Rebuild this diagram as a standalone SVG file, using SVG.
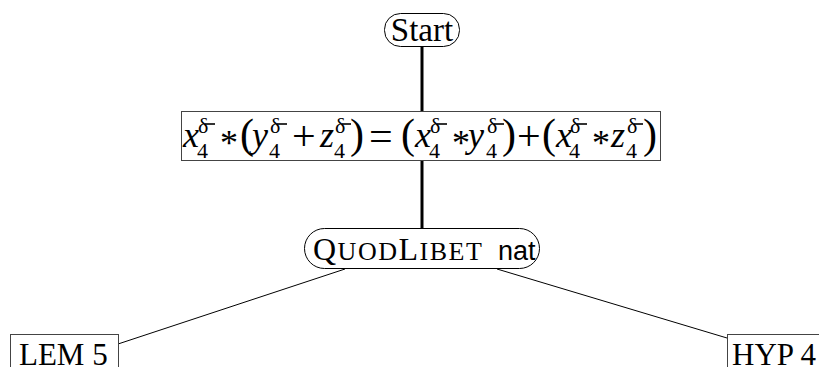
<svg xmlns="http://www.w3.org/2000/svg" width="819" height="367" viewBox="0 0 819 367">
<style>
.serif{font-family:"Liberation Serif","Times New Roman",serif;fill:#000}
.sans{font-family:"Liberation Sans",Arial,sans-serif;fill:#000}
.it{font-style:italic;font-size:36px}
.par{font-size:42px}
.op{font-size:42px}
.ast{font-size:36px}
.sup{font-size:22px}
.oval{fill:#fff;stroke:#000;stroke-width:1}
.box{fill:#fff;stroke:#444;stroke-width:1}
.thick{stroke:#000;stroke-width:3;fill:none}
.thin{stroke:#000;stroke-width:1;fill:none}
.bar{stroke:#000;stroke-width:1.6}
</style>
<rect width="819" height="367" fill="#fff"/>
<g id="connectors">
<line class="thick" x1="422" y1="46" x2="422" y2="112"/>
<line class="thick" x1="422" y1="161" x2="422" y2="228"/>
<line class="thin" x1="345" y1="269" x2="118" y2="344"/>
<line class="thin" x1="497" y1="269" x2="727" y2="338"/>
</g>
<g id="start">
<rect class="oval" x="384.5" y="13.5" width="75" height="33" rx="16"/>
<text class="serif" x="422" y="41" font-size="33" text-anchor="middle">Start</text>
</g>
<g id="equation">
<rect class="box" x="181.5" y="111.5" width="479" height="49"/>
<g class="serif">
<text class="it" x="183" y="147">x</text>
<text class="ast" x="220" y="155">*</text>
<text class="par" x="240" y="148">(</text>
<text class="it" x="252" y="147">y</text>
<text class="op" x="292" y="150">+</text>
<text class="it" x="320" y="147">z</text>
<text class="par" x="350" y="148">)</text>
<text class="op" x="369" y="150">=</text>
<text class="par" x="401" y="148">(</text>
<text class="it" x="415" y="147">x</text>
<text class="ast" x="452" y="155">*</text>
<text class="it" x="468" y="147">y</text>
<text class="par" x="502" y="148">)</text>
<text class="op" x="517" y="150">+</text>
<text class="par" x="542" y="148">(</text>
<text class="it" x="556" y="147">x</text>
<text class="ast" x="592" y="155">*</text>
<text class="it" x="611" y="147">z</text>
<text class="par" x="643" y="148">)</text>
</g>
<text class="serif sup" y="133"><tspan x="198">δ</tspan><tspan x="270">δ</tspan><tspan x="335">δ</tspan><tspan x="430">δ</tspan><tspan x="487">δ</tspan><tspan x="570">δ</tspan><tspan x="627">δ</tspan></text>
<text class="serif sup" y="158"><tspan x="197">4</tspan><tspan x="269">4</tspan><tspan x="334">4</tspan><tspan x="429">4</tspan><tspan x="486">4</tspan><tspan x="569">4</tspan><tspan x="626">4</tspan></text>
<g class="bar">
<line x1="205" y1="124" x2="215" y2="124"/>
<line x1="277" y1="124" x2="287" y2="124"/>
<line x1="342" y1="124" x2="351" y2="124"/>
<line x1="437" y1="124" x2="447" y2="124"/>
<line x1="494" y1="124" x2="504" y2="124"/>
<line x1="577" y1="124" x2="587" y2="124"/>
<line x1="634" y1="124" x2="643" y2="124"/>
</g>
</g>
<g id="quodlibet">
<rect class="oval" x="304.5" y="228.5" width="235" height="40" rx="20"/>
<text y="260"><tspan class="serif" x="313" font-size="32" letter-spacing="1.5">Q</tspan><tspan class="serif" font-size="26" letter-spacing="1.5">UOD</tspan><tspan class="serif" font-size="32" letter-spacing="1.5">L</tspan><tspan class="serif" font-size="26" letter-spacing="1.5">IBET</tspan><tspan class="sans" x="498" font-size="27">nat</tspan></text>
</g>
<g id="lem5">
<rect class="box" x="10.5" y="334.5" width="108" height="40"/>
<text class="serif" x="19" y="365" font-size="31">LEM 5</text>
</g>
<g id="hyp4">
<rect class="box" x="727.5" y="334.5" width="100" height="40"/>
<text class="serif" x="732" y="365" font-size="31">HYP 4</text>
</g>
</svg>
